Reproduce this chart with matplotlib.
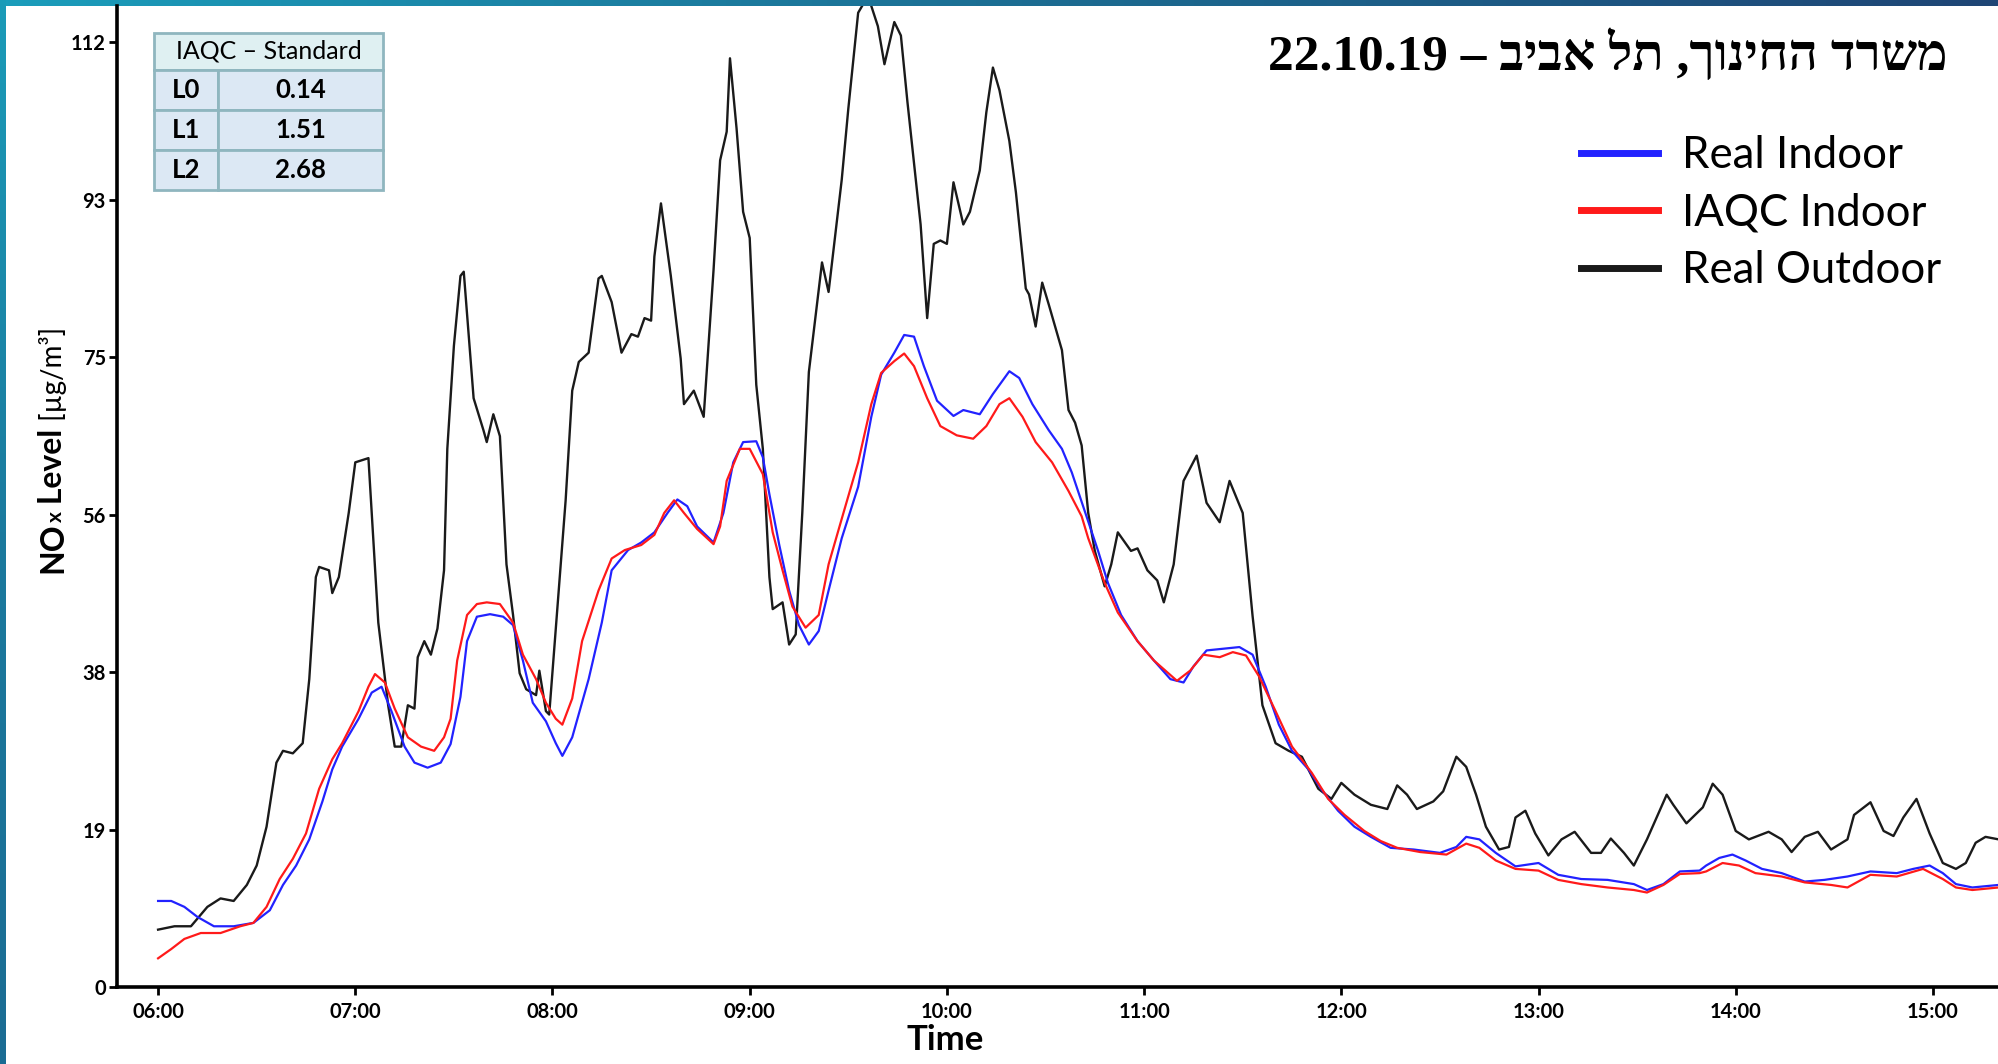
import numpy as np
import matplotlib.pyplot as plt

plt.rcParams['font.family'] = ['Lato', 'DejaVu Sans']

# minutes after 06:00 and NOx values
outdoor_t = [0, 5, 10, 15, 19, 23, 27, 30, 33, 36, 38, 41, 44, 46, 48, 49, 52, 53, 55, 58,
             60, 64, 65, 67, 70, 72, 74, 76, 78, 79, 81, 83, 85, 87, 88, 90, 92, 93, 94, 96,
             99, 100, 102, 104, 106, 108, 110, 112, 115, 116, 118, 119, 121, 124, 126, 128, 131, 134, 135, 138,
             141, 144, 146, 148, 150, 151, 153, 156, 159, 160, 163, 166, 169, 171, 173, 174, 176, 178, 180, 182,
             184, 186, 187, 190, 192, 194, 196, 198, 202, 204, 208, 210, 213, 216, 219, 221, 224, 226, 228, 232,
             234, 236, 238, 240, 242, 245, 247, 250, 252, 254, 256, 259, 261, 264, 265, 267, 269, 271, 275, 277,
             279, 281, 283, 285, 288, 290, 292, 296, 298, 301, 304, 306, 309, 312, 316, 319, 323, 326, 330, 333,
             336, 340, 344, 348, 353, 357, 360, 364, 369, 374, 377, 380, 383, 388, 391, 395, 398, 401, 404, 408,
             411, 413, 416, 419, 423, 427, 431, 436, 439, 442, 446, 449, 453, 459, 461, 465, 470, 473, 476, 480,
             484, 490, 494, 497, 501, 505, 509, 514, 516, 521, 525, 528, 531, 535, 539, 543, 547, 550, 553, 556, 560]
outdoor_v = [6.8, 7.2, 7.2, 9.5, 10.5, 10.2, 12.1, 14.4, 19.0, 26.6, 28.0, 27.7, 28.9, 36.5, 48.6, 49.8, 49.4, 46.7, 48.6, 56.2,
             62.2, 62.7, 56.2, 43.2, 33.4, 28.5, 28.5, 33.4, 33.0, 39.1, 41.0, 39.4, 42.5, 49.4, 63.8, 76.0, 84.3, 84.8, 79.8, 69.8,
             66.0, 64.6, 67.9, 65.3, 50.1, 44.1, 37.2, 35.3, 34.6, 37.5, 32.7, 32.3, 42.5, 57.7, 70.7, 74.1, 75.2, 84.0, 84.3, 81.2,
             75.2, 77.4, 77.1, 79.3, 79.0, 86.6, 92.9, 84.3, 74.5, 69.1, 70.7, 67.6, 85.0, 98.0, 101.4, 110.1, 101.8, 91.9, 88.8, 71.4,
             63.8, 48.6, 44.8, 45.6, 40.6, 41.8, 56.2, 72.9, 85.9, 82.4, 95.7, 104.1, 115.5, 117.5, 113.9, 109.4, 114.4, 112.8, 104.9, 90.4,
             79.3, 88.1, 88.5, 88.1, 95.4, 90.4, 91.9, 96.8, 103.7, 109.0, 106.3, 100.3, 94.2, 82.8, 82.1, 78.3, 83.5, 80.9, 75.5, 68.4,
             66.9, 64.2, 56.2, 51.7, 47.5, 50.1, 53.9, 51.7, 52.0, 49.4, 48.2, 45.6, 50.1, 60.0, 63.0, 57.4, 55.1, 60.0, 56.2, 44.0,
             33.4, 28.9, 28.0, 27.3, 23.5, 22.3, 24.2, 22.8, 21.6, 21.1, 23.9, 22.8, 21.1, 22.0, 23.2, 27.3, 26.1, 22.8, 19.0, 16.3,
             16.6, 20.1, 20.9, 18.2, 15.6, 17.5, 18.4, 15.9, 15.9, 17.6, 15.9, 14.4, 17.5, 22.8, 21.6, 19.4, 21.3, 24.1, 22.8, 18.5,
             17.5, 18.4, 17.5, 16.0, 17.8, 18.4, 16.3, 17.5, 20.4, 21.9, 18.5, 17.9, 20.1, 22.3, 18.2, 14.7, 14.0, 14.7, 17.1, 17.8, 17.5]

indoor_t = [0, 4, 8, 12, 17, 23, 29, 34, 38, 42, 46, 50, 53, 56, 61, 65, 68, 71, 75, 78,
            82, 86, 89, 92, 94, 97, 101, 105, 108, 111, 114, 118, 121, 123, 126, 131, 135, 138, 143, 147,
            151, 155, 158, 161, 164, 169, 172, 175, 178, 182, 184, 186, 189, 192, 195, 198, 201, 204, 208, 213,
            217, 220, 224, 227, 230, 233, 237, 242, 245, 250, 254, 259, 262, 266, 271, 275, 278, 281, 286, 289,
            293, 298, 303, 308, 312, 315, 319, 324, 329, 333, 337, 341, 345, 350, 354, 359, 364, 369, 375, 382,
            390, 395, 398, 402, 407, 413, 420, 426, 433, 441, 449, 453, 458, 463, 469, 471, 475, 479, 483, 488,
            494, 501, 507, 514, 521, 529, 534, 539, 543, 547, 552, 560]
indoor_v = [10.2, 10.2, 9.5, 8.3, 7.2, 7.2, 7.6, 9.1, 12.1, 14.4, 17.5, 22.0, 25.8, 28.5, 31.8, 34.9, 35.6, 32.7, 28.5, 26.6,
            26.0, 26.6, 28.8, 34.4, 41.0, 43.9, 44.2, 43.9, 42.9, 38.7, 33.7, 31.5, 28.9, 27.4, 29.6, 36.5, 43.2, 49.4, 51.8, 52.7,
            53.9, 56.2, 57.8, 57.0, 54.6, 52.7, 56.2, 62.2, 64.6, 64.7, 62.8, 58.4, 52.4, 47.0, 42.9, 40.6, 42.2, 47.0, 53.2, 59.3,
            67.6, 72.6, 75.2, 77.3, 77.1, 73.6, 69.5, 67.7, 68.4, 67.9, 70.3, 73.0, 72.2, 69.1, 66.0, 63.8, 61.0, 57.5, 51.7, 47.9,
            44.1, 41.0, 38.7, 36.5, 36.1, 38.0, 39.9, 40.1, 40.3, 39.4, 35.6, 31.1, 28.0, 25.8, 23.4, 20.9, 19.0, 17.8, 16.5, 16.3,
            15.9, 16.6, 17.8, 17.5, 15.9, 14.3, 14.7, 13.3, 12.8, 12.7, 12.2, 11.5, 12.2, 13.7, 13.8, 14.4, 15.3, 15.7, 15.0, 14.0,
            13.5, 12.5, 12.7, 13.1, 13.7, 13.5, 14.0, 14.4, 13.5, 12.2, 11.8, 12.1]

iaqc_t = [0, 4, 8, 13, 19, 25, 29, 33, 37, 41, 45, 49, 53, 56, 61, 64, 66, 69, 72, 76,
          80, 84, 87, 89, 91, 94, 97, 100, 104, 108, 111, 115, 118, 121, 123, 126, 129, 134, 138, 142,
          147, 151, 154, 157, 160, 164, 169, 171, 173, 177, 180, 184, 187, 190, 193, 197, 201, 204, 208, 213,
          217, 220, 224, 227, 230, 234, 238, 243, 248, 252, 256, 259, 263, 267, 272, 277, 281, 283, 288, 292,
          298, 303, 310, 314, 318, 323, 327, 331, 335, 340, 345, 351, 356, 361, 367, 372, 377, 384, 392, 398,
          402, 407, 413, 420, 426, 433, 441, 449, 453, 458, 463, 469, 471, 476, 481, 486, 494, 501, 509, 514,
          521, 529, 537, 543, 547, 552, 560]
iaqc_v = [3.4, 4.5, 5.7, 6.4, 6.4, 7.2, 7.6, 9.5, 12.8, 15.2, 18.2, 23.5, 27.0, 28.9, 32.7, 35.6, 37.1, 36.1, 33.0, 29.6,
          28.5, 28.0, 29.6, 31.8, 38.7, 44.1, 45.4, 45.6, 45.4, 43.2, 39.4, 36.5, 33.7, 31.8, 31.1, 34.2, 41.0, 47.0, 50.8, 51.8,
          52.4, 53.6, 56.2, 57.7, 56.2, 54.3, 52.5, 54.6, 60.0, 63.8, 63.8, 60.8, 53.9, 49.4, 45.1, 42.6, 44.1, 50.1, 55.5, 62.2,
          69.1, 72.8, 74.2, 75.1, 73.6, 69.8, 66.5, 65.4, 65.0, 66.5, 69.1, 69.8, 67.6, 64.6, 62.2, 58.8, 55.8, 53.2, 47.9, 44.4,
          41.0, 38.7, 36.3, 37.5, 39.4, 39.1, 39.7, 39.3, 36.8, 32.7, 28.5, 25.4, 22.3, 20.4, 18.5, 17.3, 16.5, 16.0, 15.7, 17.0,
          16.5, 15.0, 14.0, 13.8, 12.7, 12.2, 11.8, 11.5, 11.2, 12.1, 13.4, 13.5, 13.7, 14.7, 14.4, 13.5, 13.1, 12.4, 12.1, 11.8,
          13.3, 13.1, 14.0, 12.8, 11.8, 11.5, 11.8]

hour_ticks = [0, 60, 120, 180, 240, 300, 360, 420, 480, 540]
hour_labels = ['06:00', '07:00', '08:00', '09:00', '10:00', '11:00', '12:00', '13:00', '14:00', '15:00']
y_ticks = np.linspace(0, 112, 7)
y_labels = ['0', '19', '38', '56', '75', '93', '112']

level_names = ['L0', 'L1', 'L2']
level_values = ['0.14', '1.51', '2.68']

W, H = 1998, 1064
fig = plt.figure(figsize=(W / 100, H / 100), dpi=100)

# frame stripes
top = fig.add_axes([0, 1 - 6 / H, 1, 6 / H])
top.imshow(np.linspace(0, 1, 256)[None, :], aspect='auto',
           cmap=plt.matplotlib.colors.LinearSegmentedColormap.from_list('t', ['#1a9dbb', '#1c6e93', '#1f4575']))
top.axis('off')
side = fig.add_axes([0, 0, 6 / W, 1])
side.imshow(np.linspace(0, 1, 256)[:, None], aspect='auto',
            cmap=plt.matplotlib.colors.LinearSegmentedColormap.from_list('s', ['#1a9bb8', '#1a7a9e', '#1a6c93']))
side.axis('off')

ax = fig.add_axes([117 / W, 77 / H, 1 - 117 / W, 981 / H])
l_out, = ax.plot(outdoor_t, outdoor_v, color='#1a1a1a', lw=1.7)
l_in, = ax.plot(indoor_t, indoor_v, color='#2222ff', lw=1.6)
l_iaqc, = ax.plot(iaqc_t, iaqc_v, color='#ff1a1a', lw=1.6)

ax.set_xlim(-12.5, 559.8)
ax.set_ylim(0, 116.3)
ax.set_xticks(hour_ticks)
ax.set_xticklabels(hour_labels, fontweight='bold')
ax.set_yticks(y_ticks)
ax.set_yticklabels(y_labels, fontweight='bold')
ax.tick_params(axis='both', length=6, width=2, labelsize=14.5, colors='black')
ax.tick_params(axis='x', pad=5)
ax.tick_params(axis='y', pad=2)
for s in ['top', 'right']:
    ax.spines[s].set_visible(False)
for s in ['left', 'bottom']:
    ax.spines[s].set_linewidth(2.6)

leg = ax.legend(handles=[l_in, l_iaqc, l_out], labels=['Real Indoor', 'IAQC Indoor', 'Real Outdoor'],
                loc='upper left', bbox_to_anchor=(1581 / W, 1 - 135 / H), bbox_transform=fig.transFigure,
                frameon=False, fontsize=31.5, handlelength=1.75, handletextpad=0.56, labelspacing=0.38,
                borderpad=0, borderaxespad=0)
for h in leg.get_lines():
    h.set_linewidth(5)

title = '22.10.19 – ' + 'משרד החינוך, תל אביב'[::-1]
fig.text(1947 / W, 1 - 55 / H, title, ha='right', va='center', fontsize=37, fontweight='bold',
         family=['Liberation Serif', 'DejaVu Sans'])

fig.text(945 / W, 1 - 1040 / H, 'Time', ha='center', va='center', fontsize=25, fontweight='bold')

# table in the top-left corner
x0, tw = 37 / 1881, 229 / 1881
hdr = ax.table(cellText=[['IAQC – Standard']], cellLoc='center',
               bbox=[x0, (987 - 70) / 981, tw, 37 / 981])
body = ax.table(cellText=[[n, v] for n, v in zip(level_names, level_values)],
                colWidths=[64 / 229, 165 / 229], cellLoc='center',
                bbox=[x0, (987 - 190) / 981, tw, 120 / 981])
for tb, fc, fw, fs in [(hdr, '#dff0f2', 'normal', 18), (body, '#dce8f4', 'bold', 18.5)]:
    tb.auto_set_font_size(False)
    for cell in tb.get_celld().values():
        cell.set_facecolor(fc)
        cell.set_edgecolor('#8fb6bf')
        cell.set_linewidth(2)
        cell.get_text().set_fontsize(fs)
        cell.get_text().set_fontweight(fw)

# y label built from pieces of different size
fig.canvas.draw()
r = fig.canvas.get_renderer()
y0 = H - 573
for s, fs, fw in [('NO', 23, 'bold'), ('x', 15, 'bold'), (' Level', 23, 'bold'), (' [µg/m³]', 20, 'normal')]:
    t = fig.text(62 / W, y0 / H, s, rotation=90, rotation_mode='anchor', ha='left', va='baseline',
                 fontsize=fs, fontweight=fw)
    y0 = t.get_window_extent(renderer=r).y1

fig.savefig('out.png', dpi=100)
